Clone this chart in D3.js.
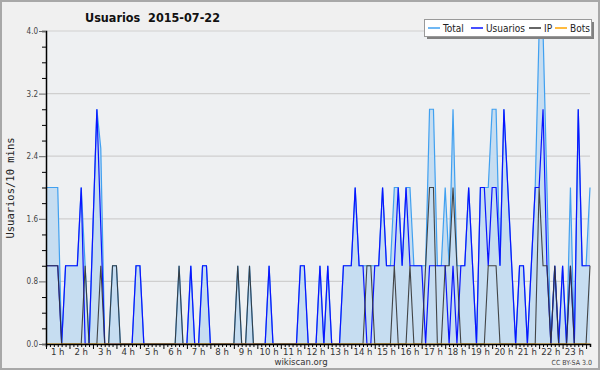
<!DOCTYPE html>
<html>
<head>
<meta charset="utf-8">
<script src="https://cdn.jsdelivr.net/npm/d3@7"></script>
<style>
  html, body { margin: 0; padding: 0; background: #f0f0f0; }
  svg { display: block; }
  text { font-family: "DejaVu Sans Condensed", "DejaVu Sans", sans-serif; }
</style>
</head>
<body>
<svg id="chart" width="600" height="370"></svg>
<script>
// one value per 10 minute slot, 00:00 -> 23:10
const usuarios = [
  1,1,1,1,0,1,1,1,1,2,0,0,
  1.5,3,1.5,0,0,0,0,0,0,0,0,1,
  1,0,0,0,0,0,0,0,0,0,0,0,
  0,1,0,0,1,1,0,0,0,0,0,0,
  0,0,0,0,0,0,0,0,0,1,0,0,
  0,0,0,0,0,1,1,0,0,0,1,0,
  1,0,0,0,1,1,1,2,1,1,0,0,
  1,1,2,1,1,1,2,1,2,1,1,1,
  1,0,1,1,1,1,1,0,1,0,1,1,
  2,1,0,2,2,1,2,2,1,3,2,1,
  0,1,1,0,1,2,2,3,1,0,1,0,
  1,0,1,0,3,1,1,1
];
const ip = [
  1,1,1,1,0,0,0,0,0,0,1,0,
  0,0,1,0,0,1,1,0,0,0,0,0,
  0,0,0,0,0,0,0,0,0,0,1,0,
  0,0,0,0,0,0,0,0,0,0,0,0,
  0,1,0,0,1,0,0,0,0,0,0,0,
  0,0,0,0,0,0,0,0,0,0,0,0,
  0,0,0,0,0,0,0,0,0,0,1,1,
  0,0,0,0,0,1,0,0,0,1,0,0,
  0,1,2,2,0,0,1,1,2,1,0,0,
  0,0,0,0,0,1,1,1,0,0,0,0,
  0,0,0,0,0,0,2,1,1,0,1,0,
  0,0,1,0,0,0,0,1
];
const total = [
  2,2,2,2,0,1,1,1,1,2,1,0,
  1.5,3,2.5,0,0,1,1,0,0,0,0,1,
  1,0,0,0,0,0,0,0,0,0,1,0,
  0,1,0,0,1,1,0,0,0,0,0,0,
  0,1,0,0,1,0,0,0,0,1,0,0,
  0,0,0,0,0,1,1,0,0,0,1,0,
  1,0,0,0,1,1,1,2,1,1,1,1,
  1,1,2,1,1,2,2,1,2,2,1,1,
  1,1,3,3,1,1,2,1,3,1,1,1,
  2,1,0,2,2,2,3,3,1,3,2,1,
  0,1,1,0,1,2,4,4,2,0,1,0,
  1,0,2,0,3,1,1,2
];
const bots = [
  0,0,0,0,0,0,0,0,0,0,0,0, 0,0,0,0,0,0,0,0,0,0,0,0,
  0,0,0,0,0,0,0,0,0,0,0,0, 0,0,0,0,0,0,0,0,0,0,0,0,
  0,0,0,0,0,0,0,0,0,0,0,0, 0,0,0,0,0,0,0,0,0,0,0,0,
  0,0,0,0,0,0,0,0,0,0,0,0, 0,0,0,0,0,0,0,0,0,0,0,0,
  0,0,0,0,0,0,0,0,0,0,0,0, 0,0,0,0,0,0,0,0,0,0,0,0,
  0,0,0,0,0,0,0,0,0,0,0,0, 0,0,0,0,0,0,0,0
];
const hourLabels = ["1 h","2 h","3 h","4 h","5 h","6 h","7 h","8 h","9 h","10 h","11 h","12 h",
                    "13 h","14 h","15 h","16 h","17 h","18 h","19 h","20 h","21 h","22 h","23 h"];
const yTicks = [0, 0.8, 1.6, 2.4, 3.2, 4.0];
const legendItems = ["Total", "Usuarios", "IP", "Bots"];
const colors = { Total: "#40a0f0", Usuarios: "#0a14ff", IP: "#333333", Bots: "#ffa500" };

const svg = d3.select("#chart");
const W = 600, H = 370;
const plotL = 46, plotR = 590, plotT = 31, plotB = 344;

// page frame
svg.append("rect").attr("x", 1).attr("y", 1).attr("width", W - 2).attr("height", H - 2)
  .attr("fill", "#f0f0f0").attr("stroke", "#a8a8a8").attr("stroke-width", 2);

const x = d3.scaleLinear().domain([0, total.length - 1]).range([plotL, plotR]);
const y = d3.scaleLinear().domain([0, 4]).range([plotB, plotT]);

svg.append("rect").attr("x", plotL).attr("y", plotT).attr("width", plotR - plotL).attr("height", plotB - plotT)
  .attr("fill", "#eef0f2");

// grid
svg.append("g").selectAll("line").data(yTicks.slice(1)).join("line")
  .attr("x1", plotL).attr("x2", plotR)
  .attr("y1", d => y(d)).attr("y2", d => y(d))
  .attr("stroke", "#cfcfcf").attr("stroke-width", 1.2);

const area = d3.area().x((d, i) => x(i)).y0(y(0)).y1(d => y(d));
const line = d3.line().x((d, i) => x(i)).y(d => y(d));

svg.append("path").datum(total).attr("d", area).attr("fill", "#c6ddf1");
svg.append("path").datum(total).attr("d", line).attr("fill", "none")
  .attr("stroke", colors.Total).attr("stroke-width", 1.2);
svg.append("path").datum(usuarios).attr("d", line).attr("fill", "none")
  .attr("stroke", colors.Usuarios).attr("stroke-width", 1.2);
svg.append("path").datum(ip).attr("d", line).attr("fill", "none")
  .attr("stroke", colors.IP).attr("stroke-width", 1.1).attr("stroke-opacity", 0.9);
svg.append("path").datum(bots).attr("d", line).attr("fill", "none")
  .attr("stroke", colors.Bots).attr("stroke-width", 1.1);

// y axis
const isMajor = d => yTicks.some(t => Math.abs(t - d) < 1e-6);
const yAxis = svg.append("g").attr("transform", `translate(${plotL},0)`)
  .call(d3.axisLeft(y).tickValues(d3.range(0, 21).map(k => k * 0.2)).tickSize(4)
    .tickFormat(d => isMajor(d) ? d3.format(".1f")(d) : ""));
yAxis.select(".domain").attr("stroke", "#000").attr("stroke-width", 1.5);
yAxis.selectAll(".tick line").attr("stroke", d => isMajor(d) ? "#666" : "#000")
  .attr("x2", d => isMajor(d) ? -7 : -4);
yAxis.selectAll(".tick text").attr("x", -8).attr("fill", "#444")
  .style("font-size", "8px");

// x axis
const xAxis = svg.append("g").attr("transform", `translate(0,${plotB})`)
  .call(d3.axisBottom(x).tickValues(d3.range(0, total.length)).tickSize(3).tickFormat(""));
xAxis.select(".domain").attr("stroke", "#000").attr("stroke-width", 1.5);
xAxis.selectAll(".tick line").attr("stroke", "#000")
  .attr("y2", (d) => d % 6 === 0 ? 5 : 3);

svg.append("g").selectAll("text").data(hourLabels).join("text")
  .attr("x", (d, i) => x(6 * (i + 1) - 3))
  .attr("y", 355)
  .attr("text-anchor", "middle")
  .attr("fill", "#333")
  .style("font-size", "9.5px")
  .text(d => d);

// titles
svg.append("text").attr("x", 85).attr("y", 22)
  .style("font-size", "12.5px").style("font-weight", "bold").attr("fill", "#111")
  .text("Usuarios\u00a0\u00a02015-07-22");

svg.append("text")
  .attr("transform", "translate(14,188) rotate(-90)")
  .attr("text-anchor", "middle")
  .style("font-family", "'DejaVu Sans Mono', monospace")
  .style("font-size", "10.5px").attr("fill", "#222")
  .text("Usuarios/10 mins");

svg.append("text").attr("x", 301).attr("y", 365).attr("text-anchor", "middle")
  .style("font-size", "9.5px").attr("fill", "#333").text("wikiscan.org");
svg.append("text").attr("x", 592).attr("y", 365).attr("text-anchor", "end")
  .style("font-size", "7px").attr("fill", "#444").text("CC BY-SA 3.0");

// legend
const lg = svg.append("g");
lg.append("rect").attr("x", 427).attr("y", 22).attr("width", 167).attr("height", 17).attr("fill", "#808080");
lg.append("rect").attr("x", 424.5).attr("y", 19.5).attr("width", 167).attr("height", 17)
  .attr("fill", "#fff").attr("stroke", "#999").attr("stroke-width", 1);
const legendX = [428, 471, 529, 555];
legendItems.forEach((name, i) => {
  lg.append("line").attr("x1", legendX[i]).attr("x2", legendX[i] + 12)
    .attr("y1", 28).attr("y2", 28).attr("stroke", colors[name]).attr("stroke-width", 1.5);
  lg.append("text").attr("x", legendX[i] + 15).attr("y", 32)
    .style("font-size", "10px").attr("fill", "#222").text(name);
});
</script>
</body>
</html>
